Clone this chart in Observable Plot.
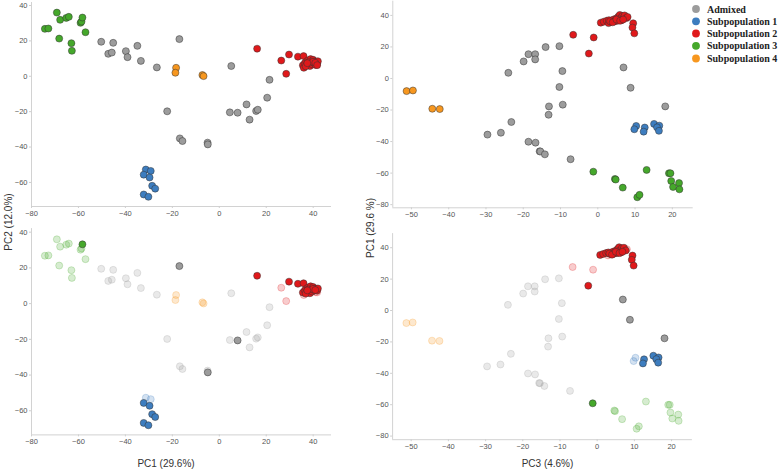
<!DOCTYPE html>
<html><head><meta charset="utf-8">
<script src="https://cdn.jsdelivr.net/npm/d3@7"></script>
<script src="https://cdn.jsdelivr.net/npm/@observablehq/plot@0.6"></script>
<style>
body{margin:0;background:#fff;}
#chart{position:relative;width:778px;height:470px;overflow:hidden;}
#chart svg{position:absolute;}
</style></head><body><div id="chart"></div>
<script>
const groupNames = ["Admixed","Subpopulation 1","Subpopulation 2","Subpopulation 3","Subpopulation 4"];
const groupColors = ["#9c9c9c","#3d7dbf","#e0191b","#45a82b","#f7971f"];

// Left panels: [PC1, PC2, highlighted in lower panel (1/0)]
const admixedPC1PC2 = [[-50.3,19.5,0],[-45.2,18.9,0],[-47.3,12.7,0],[-45.8,13.4,0],[-39.8,14.2,0],[-39.1,10.8,0],[-34.9,17.2,0],[-33.4,8.7,0],[-26.6,5.0,0],[-17.0,21.0,1],[5.1,5.8,0],[21.4,-2.0,0],[20.4,-12.1,0],[11.6,-15.9,0],[4.5,-20.4,0],[7.8,-20.6,1],[15.7,-19.6,0],[16.4,-18.9,0],[12.9,-24.5,0],[-22.2,-19.8,0],[-16.8,-35.1,0],[-15.7,-36.6,0],[-5.0,-37.5,0],[-4.9,-38.5,1]];
const sub1PC1PC2 = [[-31.3,-52.7,0],[-29.2,-53.5,0],[-32.2,-55.6,1],[-29.7,-57.2,1],[-28.6,-61.9,1],[-27.3,-63.5,1],[-32.2,-66.8,1],[-30.2,-68.1,1]];
const sub2PC1PC2 = [[16.1,15.6,1],[29.7,12.3,1],[26.4,8.9,0],[28.5,1.4,0],[33.5,11.1,1],[35.9,11.4,1],[35.6,6.2,1],[36.0,4.8,0],[36.4,7.4,1],[37.0,8.2,1],[37.3,6.6,1],[37.8,9.0,1],[38.2,7.2,1],[38.6,5.8,1],[38.9,9.7,1],[39.2,8.0,1],[39.6,6.8,1],[40.0,9.3,1],[40.3,7.6,1],[40.7,8.4,1],[41.0,6.4,0],[41.3,8.0,1],[41.7,7.3,1],[42.0,8.5,1],[36.8,5.6,1],[38.0,7.9,1],[39.9,8.2,1],[37.5,7.4,1],[40.9,7.6,1],[41.7,6.3,0]];
const sub3PC1PC2 = [[-69.2,36.0,0],[-67.8,31.9,0],[-65.2,33.0,0],[-64.1,33.6,0],[-59.1,30.2,0],[-58.7,30.9,0],[-57.0,24.9,0],[-74.3,26.8,0],[-72.8,27.0,0],[-68.2,21.3,0],[-63.0,18.7,0],[-62.8,14.4,0],[-58.3,33.2,1]];
const sub4PC1PC2 = [[-18.4,4.8,0],[-18.7,2.0,0],[-7.2,0.7,0],[-6.7,0.1,0]];

// Right panels: [PC3, PC1, highlighted in lower panel (1/0)]
const admixedPC3PC1 = [[-29.6,-35.6,0],[-26.0,-34.4,0],[-23.2,-27.6,0],[-24.0,3.6,0],[-19.9,10.8,0],[-18.6,15.4,0],[-16.8,15.4,0],[-16.8,12.1,0],[-14.0,19.9,0],[-10.3,20.5,0],[-9.5,4.7,0],[-10.3,-5.4,0],[-13.1,-17.7,0],[-13.2,-23.0,0],[-9.4,-16.6,0],[-18.6,-40.1,0],[-16.7,-40.7,0],[-15.6,-46.2,0],[-15.4,-46.3,0],[-14.2,-48.1,0],[-7.3,-51.2,0],[6.9,7.0,1],[8.8,-5.9,1],[18.1,-17.7,1]];
const sub1PC3PC1 = [[10.3,-30.1,0],[9.8,-32.2,0],[12.6,-31.1,1],[12.3,-33.7,1],[15.1,-28.8,1],[16.5,-29.9,1],[15.9,-31.0,1],[16.4,-33.2,1]];
const sub2PC3PC1 = [[-6.6,27.7,0],[-1.1,26.0,0],[-2.4,15.8,1],[9.5,35.0,1],[9.3,32.3,1],[9.8,28.6,1],[0.8,35.4,1],[1.6,36.0,1],[2.4,36.6,1],[2.9,35.1,0],[3.0,37.0,1],[3.6,36.0,1],[4.2,37.4,1],[4.5,36.2,1],[4.9,38.0,1],[5.3,36.6,1],[5.5,39.2,1],[5.9,40.3,1],[6.1,38.3,1],[6.4,37.0,1],[6.6,39.6,1],[7.0,38.8,1],[7.2,40.0,1],[7.7,38.3,1],[8.0,39.0,0],[3.3,36.3,1],[4.0,35.6,1],[5.0,37.4,1],[6.0,36.6,1],[6.8,37.4,1]];
const sub3PC3PC1 = [[4.6,-63.7,0],[4.8,-64.1,0],[6.7,-69.2,0],[13.1,-58.0,0],[10.6,-75.3,0],[11.2,-73.8,0],[19.1,-60.1,0],[19.5,-60.1,0],[19.7,-65.0,0],[20.2,-68.8,0],[21.8,-66.3,0],[21.9,-70.3,0],[-1.2,-59.1,1]];
const sub4PC3PC1 = [[-51.3,-8.0,0],[-49.6,-7.6,0],[-44.4,-19.2,0],[-42.4,-19.4,0]];

const ticksPC1x = [-80,-60,-40,-20,0,20,40];
const ticksPC2y = [-60,-40,-20,0,20,40];
const ticksPC3x = [-50,-40,-30,-20,-10,0,10,20];
const ticksPC1y = [-80,-60,-40,-20,0,20,40];
const axisTitles = {left_x:"PC1 (29.6%)", left_y:"PC2 (12.0%)", right_x:"PC3 (4.6%)", right_y:"PC1 (29.6 %)"};

const pc1pc2 = [admixedPC1PC2, sub1PC1PC2, sub2PC1PC2, sub3PC1PC2, sub4PC1PC2];
const pc3pc1 = [admixedPC3PC1, sub1PC3PC1, sub2PC3PC1, sub3PC3PC1, sub4PC3PC1];
const drawOrder = [0, 4, 3, 1, 2];

const chart = document.getElementById("chart");

function panel(data, o, lower) {
  const rows = data.flatMap((arr, g) => arr.map(([x, y, h]) => ({x, y, h, g})));
  const dotOpts = {x: "x", y: "y", r: 3.5, strokeWidth: 0.7};
  const marks = [
    Plot.ruleX([o.xDomain[0]], {stroke: "#d2d2d2"}),
    Plot.ruleY([o.yDomain[0]], {stroke: "#d2d2d2"}),
    Plot.axisX({ticks: o.xTicks, tickSize: 2, tickPadding: 2, stroke: "#cfcfcf", fill: "#555", fontSize: 7.5, label: null}),
    Plot.axisY({ticks: o.yTicks, tickSize: 2, tickPadding: 2, stroke: "#cfcfcf", fill: "#555", fontSize: 7.5, label: null})
  ];
  if (!lower) {
    for (const g of drawOrder) {
      marks.push(Plot.dot(rows.filter(d => d.g === g), {...dotOpts, fill: groupColors[g], stroke: "#333", strokeOpacity: 0.7}));
    }
  } else {
    for (const g of drawOrder) {
      marks.push(Plot.dot(rows.filter(d => d.g === g && !d.h), {...dotOpts, fill: groupColors[g], fillOpacity: 0.22, stroke: groupColors[g], strokeOpacity: 0.35}));
    }
    for (const g of drawOrder) {
      marks.push(Plot.dot(rows.filter(d => d.g === g && d.h), {...dotOpts, fill: groupColors[g], stroke: "#333", strokeOpacity: 0.7}));
    }
  }
  const svg = Plot.plot({
    width: o.width, height: o.height,
    marginLeft: o.mL, marginRight: o.mR, marginTop: o.mT, marginBottom: o.mB,
    x: {domain: o.xDomain},
    y: {domain: o.yDomain},
    style: {background: "transparent", overflow: "visible", fontFamily: "'Liberation Sans', Arial, sans-serif", fontSize: "7.5px"},
    marks
  });
  svg.style.left = o.left + "px";
  svg.style.top = o.top + "px";
  chart.appendChild(svg);
}

// Top-left: PC1 vs PC2
panel(pc1pc2, {left: 0, top: 0, width: 340, height: 222, mL: 31, mR: 9, mT: 2, mB: 16,
  xDomain: [-80, 47.8], yDomain: [-73.6, 41.7], xTicks: ticksPC1x, yTicks: ticksPC2y}, false);
// Bottom-left
panel(pc1pc2, {left: 0, top: 226, width: 340, height: 226, mL: 31, mR: 9, mT: 2.1, mB: 17.6,
  xDomain: [-80, 47.8], yDomain: [-73.5, 42], xTicks: ticksPC1x, yTicks: ticksPC2y}, true);
// Top-right: PC3 vs PC1
panel(pc3pc1, {left: 360, top: 0, width: 340, height: 222, mL: 32.3, mR: 7.3, mT: 0.7, mB: 14.7,
  xDomain: [-55, 25.6], yDomain: [-82, 49], xTicks: ticksPC3x, yTicks: ticksPC1y}, false);
// Bottom-right
panel(pc3pc1, {left: 360, top: 226, width: 340, height: 230, mL: 32.1, mR: 8.1, mT: 7.1, mB: 16.8,
  xDomain: [-55, 25.6], yDomain: [-82.3, 49], xTicks: ticksPC3x, yTicks: ticksPC1y}, true);

// Overlay: axis titles and legend
const ov = d3.create("svg").attr("width", 778).attr("height", 470)
  .style("left", "0px").style("top", "0px").style("overflow", "visible");
const tstyle = s => s.attr("font-family", "'Liberation Sans', Arial, sans-serif").attr("font-size", 10)
  .attr("fill", "#333").attr("text-anchor", "middle").attr("dominant-baseline", "central");
ov.append("text").call(tstyle).attr("x", 166).attr("y", 463).text(axisTitles.left_x);
ov.append("text").call(tstyle).attr("x", 547.5).attr("y", 463).text(axisTitles.right_x);
ov.append("text").call(tstyle).attr("transform", "translate(8,222) rotate(-90)").text(axisTitles.left_y);
ov.append("text").call(tstyle).attr("transform", "translate(370,228) rotate(-90)").text(axisTitles.right_y);
const legY = [9, 21.3, 33.5, 45.8, 58.5];
groupNames.forEach((name, i) => {
  ov.append("circle").attr("cx", 696).attr("cy", legY[i]).attr("r", 3.9).attr("fill", groupColors[i]);
  ov.append("text").attr("x", 707).attr("y", legY[i]).attr("dominant-baseline", "central")
    .attr("font-family", "'Liberation Serif', 'Times New Roman', serif").attr("font-weight", "bold")
    .attr("font-size", 10).attr("fill", "#222").text(name);
});
chart.appendChild(ov.node());
</script></body></html>
